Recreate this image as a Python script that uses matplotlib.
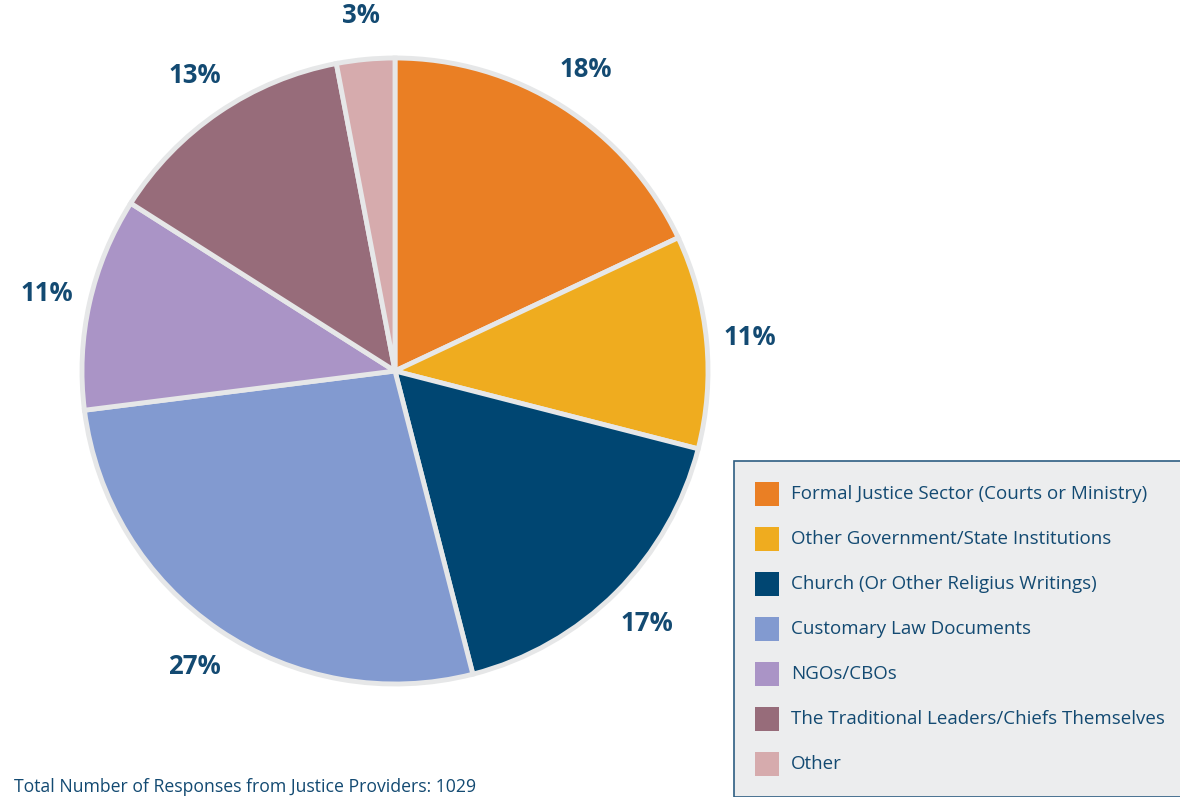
import matplotlib.pyplot as plt
from matplotlib.patches import Rectangle

categories = [
    "Formal Justice Sector (Courts or Ministry)",
    "Other Government/State Institutions",
    "Church (Or Other Religius Writings)",
    "Customary Law Documents",
    "NGOs/CBOs",
    "The Traditional Leaders/Chiefs Themselves",
    "Other",
]
shares = [18, 11, 17, 27, 11, 13, 3]
colors = ["#EA7F24", "#EFAC1F", "#004672", "#829AD0", "#AA94C6", "#976C7A", "#D6ABAD"]
total_responses = 1029

text_color = "#134A72"
plt.rcParams['font.family'] = ['Open Sans', 'DejaVu Sans']

W, H = 1180, 797
fig = plt.figure(figsize=(W / 100, H / 100), dpi=100)

# pie centre and radius in pixels
cx, cy, r = 395, 371, 313
ax = fig.add_axes([(cx - r) / W, (H - cy - r) / H, 2 * r / W, 2 * r / H])

wedges, texts = ax.pie(
    shares, colors=colors, startangle=90, counterclock=False, radius=1,
    labels=[f"{s}%" for s in shares], labeldistance=1.14,
    wedgeprops=dict(edgecolor="#E6E7E8", linewidth=3.5),
    textprops=dict(color=text_color, fontsize=18.5, fontweight='bold'),
)
for t in texts:
    t.set_ha('center')
    t.set_va('center')
    t.set_clip_on(False)
# pie() resets the limits, so set them afterwards
ax.set_xlim(-1, 1)
ax.set_ylim(-1, 1)
ax.axis('off')

# legend box
box = Rectangle((734 / W, 0), 1 - 734 / W + 0.01, (H - 461) / H, transform=fig.transFigure,
                facecolor="#ECEDEE", edgecolor="#2E5E82", linewidth=1.2)
fig.patches.append(box)
for i, (cat, col) in enumerate(zip(categories, colors)):
    y = 494 + 45 * i
    fig.patches.append(Rectangle((755 / W, (H - y - 12) / H), 24 / W, 24 / H,
                                 transform=fig.transFigure, facecolor=col, edgecolor='none'))
    fig.text(791 / W, (H - y) / H, cat, color=text_color, fontsize=13.5, va='center', ha='left')

fig.text(14 / W, (H - 787) / H, f"Total Number of Responses from Justice Providers: {total_responses}",
         color=text_color, fontsize=12.7, va='center', ha='left')

fig.savefig("out.png", dpi=100)
